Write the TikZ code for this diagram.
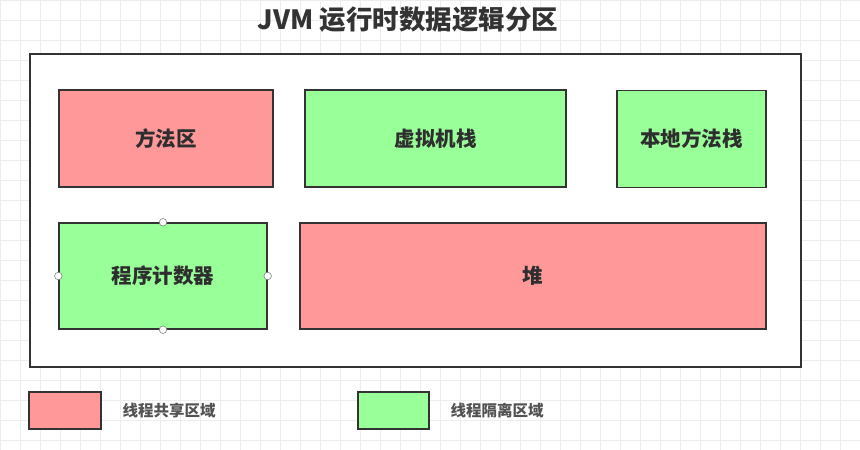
\documentclass[tikz,border=0pt]{standalone}
\usepackage{fontspec}
\setmainfont{Noto Sans CJK SC}
\usetikzlibrary{positioning}
\definecolor{sharedred}{HTML}{FF9999}
\definecolor{isogreen}{HTML}{99FF99}
\definecolor{edge}{HTML}{333333}
\tikzset{x=1pt,y=-1pt}
\tikzset{area/.style={draw=edge,line width=1.4pt,font=\fontsize{20.5}{24}\selectfont\bfseries,text=edge!90!black}}
\tikzset{shared/.style={area,fill=sharedred}}
\tikzset{iso/.style={area,fill=isogreen}}
\tikzset{handle/.style={circle,draw=gray,fill=white,inner sep=0pt,minimum size=7.5pt,line width=0.6pt}}
\tikzset{legendtext/.style={anchor=west,font=\fontsize{15.5}{18}\selectfont\bfseries,text=edge!85}}

\begin{document}
\begin{tikzpicture}
                    \useasboundingbox (0,0) rectangle (860,450);
                    \fill[white] (0,0) rectangle (860,450);
                    \foreach \gx in {0,20,...,860}
                        \draw[black!7,line width=0.5pt] (\gx,0) -- (\gx,450);
                    \foreach \gy in {0,20,...,440}
                        \draw[black!7,line width=0.5pt] (0,\gy) -- (860,\gy);
                    \node[font=\fontsize{26.5}{30}\selectfont\bfseries,text=edge] (title) at (408,20) {JVM 运行时数据逻辑分区};
                    \node[draw=edge,fill=white,line width=1.4pt,minimum width=771pt,minimum height=313pt,inner sep=0pt] (jvm) at (415.5,210.5) {};
                    \node[shared,minimum width=214pt,minimum height=97pt] (method) at (166,138.5) {方法区};
                    \node[iso,minimum width=261pt,minimum height=97pt] (vmstack) at (435.5,138.5) {虚拟机栈};
                    \node[iso,minimum width=149pt,minimum height=97pt] (native) at (691.5,139) {本地方法栈};
                    \node[iso,minimum width=208pt,minimum height=106pt] (pc) at (163,276) {程序计数器};
                    \node[shared,minimum width=466pt,minimum height=106pt] (heap) at (533,276) {堆};
                    \foreach \side in {north,south,east,west}
                        \node[handle] (pc-\side) at (pc.\side) {};
                    \node[shared,minimum width=72pt,minimum height=37pt] (keyshared) at (65,410.5) {};
                    \node[legendtext] (keysharedtext) at (119,411) {线程共享区域};
                    \node[iso,minimum width=71pt,minimum height=37pt] (keyiso) at (393.5,410.5) {};
                    \node[legendtext] (keyisotext) at (447,411) {线程隔离区域};
\end{tikzpicture}
\end{document}
